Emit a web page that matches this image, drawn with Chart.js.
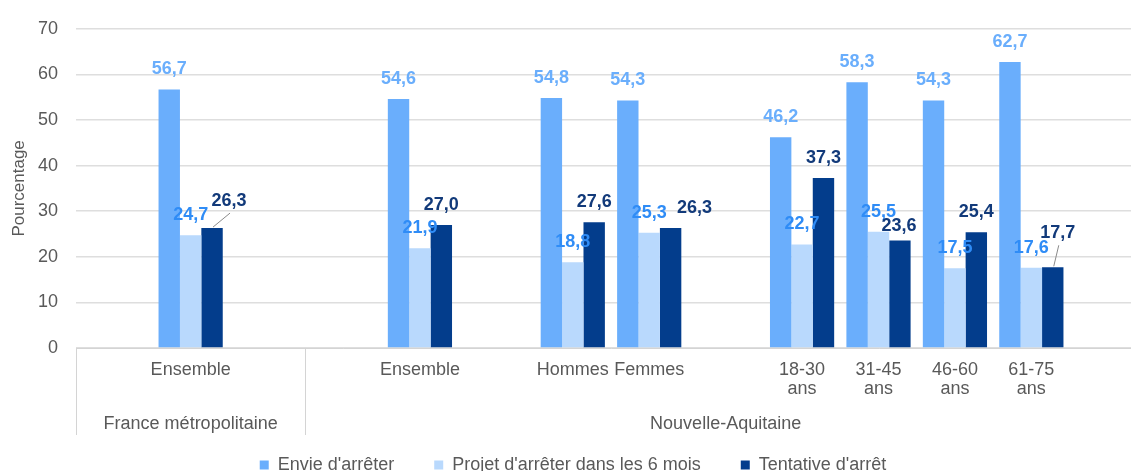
<!DOCTYPE html>
<html>
<head>
<meta charset="utf-8">
<script src="https://cdn.jsdelivr.net/npm/chart.js@4/dist/chart.umd.min.js"></script>
<style>
  body { margin: 0; background: #fff; overflow: hidden; }
  #wrap { width: 1146px; height: 471px; position: relative; }
</style>
</head>
<body>
<div id="wrap"><canvas id="tabacChart"></canvas></div>
<script>
const categories = ['', 'Ensemble', '', '', 'Ensemble', '', 'Hommes', 'Femmes', '',
  ['18-30', 'ans'], ['31-45', 'ans'], ['46-60', 'ans'], ['61-75', 'ans'], ''];
const envie = [null, 56.7, null, null, 54.6, null, 54.8, 54.3, null, 46.2, 58.3, 54.3, 62.7, null];
const projet = [null, 24.7, null, null, 21.9, null, 18.8, 25.3, null, 22.7, 25.5, 17.5, 17.6, null];
const tentative = [null, 26.3, null, null, 27.0, null, 27.6, 26.3, null, 37.3, 23.6, 25.4, 17.7, null];
const seriesNames = ["Envie d'arrêter", "Projet d'arrêter dans les 6 mois", "Tentative d'arrêt"];
const groups = ['France métropolitaine', 'Nouvelle-Aquitaine'];
const groupStarts = [0, 3];
const yTicks = [0, 10, 20, 30, 40, 50, 60, 70];

const grey = '#595959';
const font = 'Liberation Sans, Arial, sans-serif';
const labelColors = ['#6aaefc', '#2f8cf6', '#123a7a'];

// a few labels sit off their bar in the original, some with a small leader line
const nudges = { '2-1': [17, -7, true], '2-7': [24, 0], '2-12': [5, -14, true], '2-10': [-1, 6] };

const valueLabels = {
  id: 'valueLabels',
  afterDatasetsDraw(chart) {
    const ctx = chart.ctx;
    ctx.save();
    ctx.font = 'bold 18px ' + font;
    ctx.textAlign = 'center';
    ctx.textBaseline = 'middle';
    chart.data.datasets.forEach((ds, i) => {
      chart.getDatasetMeta(i).data.forEach((bar, j) => {
        const v = ds.data[j];
        if (v === null) return;
        const n = nudges[i + '-' + j] || [0, 0];
        const tx = bar.x + n[0];
        const ty = bar.y - 20 + n[1];
        if (n[2]) {
          ctx.strokeStyle = '#8a8a8a';
          ctx.lineWidth = 1;
          ctx.beginPath();
          ctx.moveTo(bar.x + 1, bar.y - 1);
          ctx.lineTo(tx + 1, ty + 12);
          ctx.stroke();
        }
        ctx.fillStyle = labelColors[i];
        ctx.fillText(v.toFixed(1).replace('.', ','), tx, ty);
      });
    });
    ctx.restore();
  },
};

const groupAxis = {
  id: 'groupAxis',
  afterDraw(chart) {
    const ctx = chart.ctx;
    const xs = chart.scales.x;
    const slot = (xs.right - xs.left) / categories.length;
    const bottom = chart.chartArea.bottom;
    ctx.save();
    ctx.strokeStyle = '#d4d4d4';
    ctx.lineWidth = 1;
    ctx.font = '18px ' + font;
    ctx.fillStyle = grey;
    ctx.textAlign = 'center';
    ctx.textBaseline = 'middle';
    groupStarts.forEach((start, k) => {
      const x0 = xs.left + start * slot;
      const end = k + 1 < groupStarts.length ? groupStarts[k + 1] : categories.length;
      const x1 = xs.left + end * slot;
      ctx.beginPath();
      ctx.moveTo(Math.round(x0) + 0.5, bottom);
      ctx.lineTo(Math.round(x0) + 0.5, 435);
      ctx.stroke();
      ctx.fillText(groups[k], (x0 + x1) / 2, 424);
    });
    ctx.restore();
  },
};

const ctx = document.getElementById('tabacChart').getContext('2d');
new Chart(ctx, {
  type: 'bar',
  data: {
    labels: categories,
    datasets: [
      { label: seriesNames[0], data: envie, backgroundColor: '#6aaefc' },
      { label: seriesNames[1], data: projet, backgroundColor: '#b9d9fd' },
      { label: seriesNames[2], data: tentative, backgroundColor: '#033d8c' },
    ],
  },
  options: {
    responsive: true,
    maintainAspectRatio: false,
    animation: false,
    layout: { padding: { top: 24, right: 0, left: 0, bottom: -13 } },
    datasets: { bar: { barPercentage: 1, categoryPercentage: 0.84, borderWidth: 0 } },
    scales: {
      x: {
        grid: { display: false, drawTicks: false },
        border: { display: true, color: '#d4d4d4', width: 1 },
        ticks: {
          autoSkip: false,
          maxRotation: 0,
          padding: 13,
          color: grey,
          font: { family: font, size: 18, lineHeight: 1.05 },
        },
        afterFit: (scale) => { scale.height = 68; },
      },
      y: {
        min: 0,
        max: 70,
        afterBuildTicks: (scale) => { scale.ticks = yTicks.map((v) => ({ value: v })); },
        grid: { color: '#dedede', lineWidth: 1.5, drawTicks: false },
        border: { display: false },
        ticks: { padding: 18, color: grey, font: { family: font, size: 18 } },
        title: {
          display: true,
          text: 'Pourcentage',
          color: grey,
          font: { family: font, size: 17 },
          padding: { top: 9, bottom: 0 },
        },
        afterFit: (scale) => { scale.width = 76; },
      },
    },
    plugins: {
      legend: {
        display: true,
        position: 'bottom',
        labels: {
          boxWidth: 9,
          boxHeight: 9,
          padding: 40,
          color: grey,
          font: { family: font, size: 18 },
        },
      },
      tooltip: { enabled: false },
    },
  },
  plugins: [valueLabels, groupAxis],
});
</script>
</body>
</html>
